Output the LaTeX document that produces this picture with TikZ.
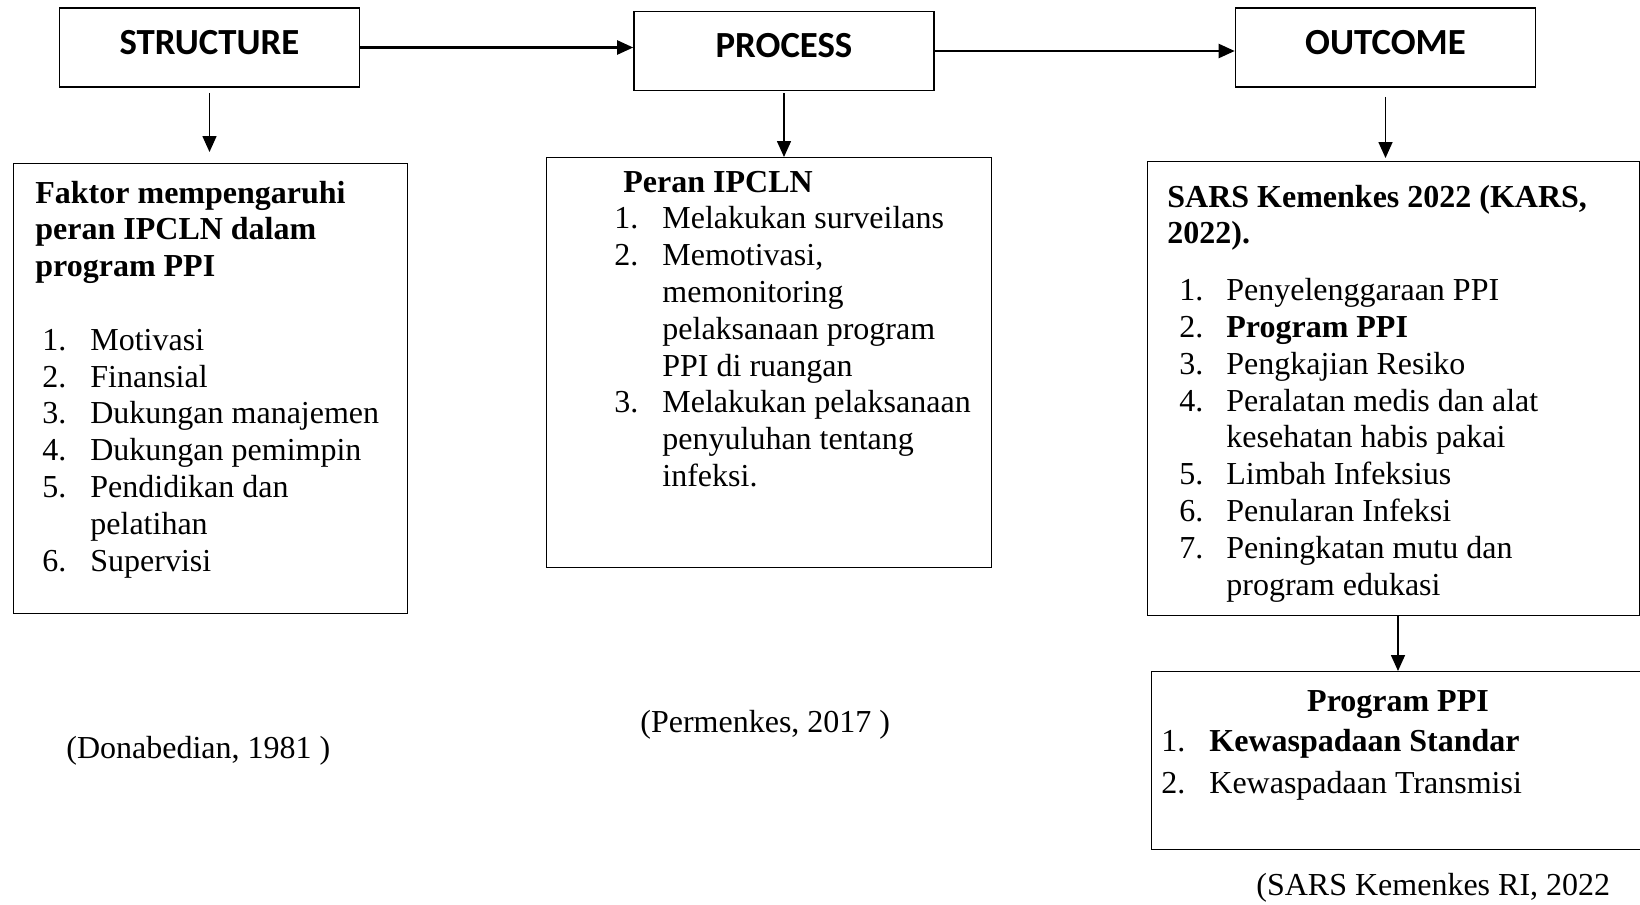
\documentclass[tikz,border=0pt]{standalone}
\usepackage{fontspec}
\setmainfont{Liberation Serif}
\newfontfamily\hdfont{Carlito}
\usetikzlibrary{positioning, arrows.meta}

\begin{document}
\begin{tikzpicture}[
    x=0.5pt, y=-0.5pt,
    >={Triangle[length=8pt, width=7pt]},
    head/.style={
      draw, line width=0.8pt,
      minimum width=150pt, minimum height=39.5pt,
      font=\hdfont\bfseries\fontsize{18.4}{22}\selectfont,
      text depth=5.5pt
    },
    frame/.style={draw, line width=0.7pt, anchor=north west, inner sep=0pt},
    body/.style={anchor=base west, inner sep=0pt, font=\fontsize{16}{18.4}\selectfont},
    cite/.style={anchor=base west, inner sep=0pt, font=\fontsize{16}{18.4}\selectfont},
    link/.style={->, line width=1.1pt},
    down/.style={->, line width=0.8pt}
  ]
    \useasboundingbox (0,0) rectangle (1640,905);

    % top row
    \node[head] (structure) at (209.5,47.5) {STRUCTURE};
    \node[head] (process)   at (784,51)     {PROCESS};
    \node[head] (outcome)   at (1385.5,47.5) {OUTCOME};

    % frames
    \node[frame, minimum width=197pt, minimum height=225pt]   (faktor)  at (13,163)   {};
    \node[frame, minimum width=222.5pt, minimum height=205pt] (peran)   at (546,157)  {};
    \node[frame, minimum width=246pt, minimum height=227pt]   (sars)    at (1147,161) {};
    \node[frame, minimum width=250pt, minimum height=89pt]    (program) at (1151,671) {};

    % frame texts
    \node[body] (faktortext) at (35,203) {\begin{tabular}[t]{@{\hspace{3.5pt}}p{24pt}@{}l@{}}
      \multicolumn{2}{@{}l@{}}{\bfseries Faktor mempengaruhi}\\
      \multicolumn{2}{@{}l@{}}{\bfseries peran IPCLN dalam}\\
      \multicolumn{2}{@{}l@{}}{\bfseries program PPI}\\[18.4pt]
      1. & Motivasi\\
      2. & Finansial\\
      3. & Dukungan manajemen\\
      4. & Dukungan pemimpin\\
      5. & Pendidikan dan\\
         & pelatihan\\
      6. & Supervisi
    \end{tabular}};

    \node[body] (perantext) at (614,192) {\begin{tabular}[t]{@{}p{24pt}@{}l@{}}
      \multicolumn{2}{@{\hspace{4.5pt}}l@{}}{\bfseries Peran IPCLN}\\
      1. & Melakukan surveilans\\
      2. & Memotivasi,\\
         & memonitoring\\
         & pelaksanaan program\\
         & PPI di ruangan\\
      3. & Melakukan pelaksanaan\\
         & penyuluhan tentang\\
         & infeksi.
    \end{tabular}};

    \node[body] (sarstext) at (1167,207) {\begin{tabular}[t]{@{\hspace{6pt}}p{23.5pt}@{}l@{}}
      \multicolumn{2}{@{}l@{}}{\bfseries SARS Kemenkes 2022 (KARS,}\\
      \multicolumn{2}{@{}l@{}}{\bfseries 2022).}\\[10pt]
      1. & Penyelenggaraan PPI\\
      2. & \textbf{Program PPI}\\
      3. & Pengkajian Resiko\\
      4. & Peralatan medis dan alat\\
         & kesehatan habis pakai\\
      5. & Limbah Infeksius\\
      6. & Penularan Infeksi\\
      7. & Peningkatan mutu dan\\
         & program edukasi
    \end{tabular}};

    \node[body, anchor=base, font=\fontsize{16}{18.4}\selectfont\bfseries] (programhead) at (1398,711) {Program PPI};
    \node[body, font=\fontsize{16}{21}\selectfont] (programtext) at (1161,751) {\begin{tabular}[t]{@{}p{24pt}@{}l@{}}
      1. & \textbf{Kewaspadaan Standar}\\
      2. & Kewaspadaan Transmisi
    \end{tabular}};

    % sources
    \node[cite] (donabedian) at (66,758)   {(Donabedian, 1981 )};
    \node[cite] (permenkes)  at (640,732)  {(Permenkes, 2017 )};
    \node[cite] (kemenkes)   at (1256,895) {(SARS Kemenkes RI, 2022};

    % connectors
    \draw[link] (structure.east) -- (process.west |- structure.east);
    \draw[link] (process.east) -- (outcome.west |- process.east);
    \draw[down, shorten <=2.5pt, shorten >=5.5pt] (structure.south) -- (structure.south |- faktor.north);
    \draw[down, shorten <=1pt] (process.south) -- (process.south |- peran.north);
    \draw[down, shorten <=4.5pt, shorten >=1.5pt] (outcome.south) -- (outcome.south |- sars.north);
    \draw[down] (sars.south -| programhead) -- (programhead |- program.north);
\end{tikzpicture}
\end{document}
